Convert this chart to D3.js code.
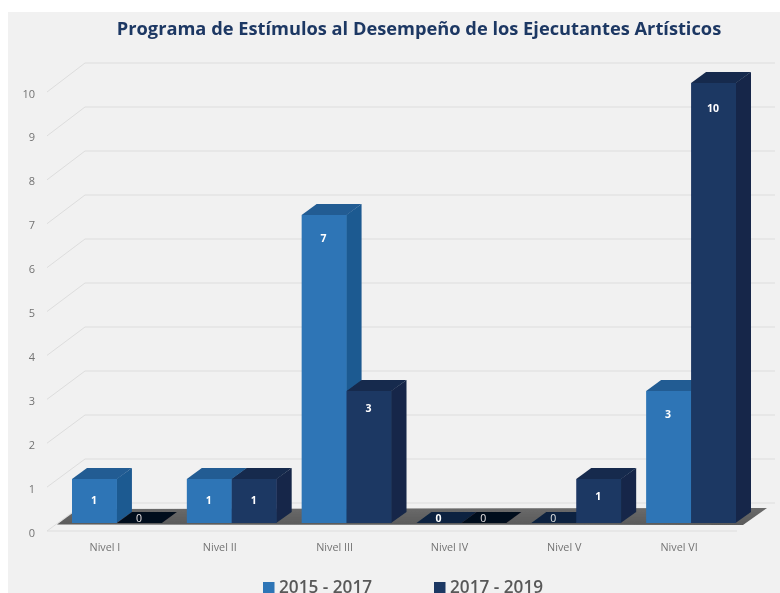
<!DOCTYPE html>
<html><head><meta charset="utf-8">
<script src="https://cdn.jsdelivr.net/npm/d3@7"></script>
<style>html,body{margin:0;padding:0;background:#fff;overflow:hidden}svg{display:block}</style>
</head><body><svg id="c" width="780" height="593"></svg>
<script>
const chartTitle = "Programa de Estímulos al Desempeño de los Ejecutantes Artísticos";
const categories = ["Nivel I","Nivel II","Nivel III","Nivel IV","Nivel V","Nivel VI"];
const seriesNames = ["2015 - 2017","2017 - 2019"];
const values2015 = [1,1,7,0,0,3];
const values2017 = [0,1,3,0,1,10];
const yTicks = [0,1,2,3,4,5,6,7,8,9,10];

const font = "'Open Sans', sans-serif";
const root = d3.select("#c");
const defs = root.append("defs");
defs.append("filter").attr("id","soft").attr("x",0).attr("y",0).attr("width",1).attr("height",1)
  .append("feGaussianBlur").attr("stdDeviation",0.35);
const fg = defs.append("linearGradient").attr("id","floor").attr("x1",0).attr("x2",0).attr("y1",0).attr("y2",1);
fg.append("stop").attr("offset",0).attr("stop-color","#6a6a6a");
fg.append("stop").attr("offset",1).attr("stop-color","#5a5a5a");

root.append("rect").attr("x",8).attr("y",12).attr("width",772).attr("height",581).attr("fill","#f1f1f1");
const svg = root.append("g").attr("filter","url(#soft)");
svg.append("rect").attr("x",8).attr("y",12).attr("width",772).attr("height",581).attr("fill","#f1f1f1");

const dep = {x:15,y:-11};
const wall = {fx:47, bx:85, right:775, floorRight:737};
const x = d3.scaleBand().domain(categories).range([72,736]).paddingInner(25/115);
const xs = d3.scaleBand().domain(seriesNames).range([0,x.bandwidth()]);
const y = d3.scaleLinear().domain([0,10]).range([523,83]);
const yFront = d3.scaleLinear().domain([0,10]).range([531,92]);
const yBack = d3.scaleLinear().domain([0,10]).range([503,63]);

// wall grid
const grid = svg.append("g").attr("fill","none").attr("stroke","#dddddd").attr("stroke-width",1);
yTicks.forEach(t=>{
  grid.append("polyline").attr("points",
    `${wall.fx},${yFront(t)} ${wall.bx},${yBack(t)} ${wall.right},${yBack(t)}`);
});
grid.append("line").attr("x1",wall.fx).attr("x2",wall.floorRight)
  .attr("y1",yFront(0)).attr("y2",yFront(0));

// floor
svg.append("polygon")
  .attr("points",`57,${y(0)+1.5} 78,509 767,508 743,${y(0)+2}`)
  .attr("fill","url(#floor)");

// axes
const gy = svg.append("g").attr("transform","translate(35,1.5)")
  .call(d3.axisLeft(yFront).tickValues(yTicks).tickSize(0).tickPadding(0));
gy.select(".domain").remove();
gy.selectAll("text").attr("font-family",font).attr("font-size",11).attr("fill","#737373");

const gx = svg.append("g").attr("transform","translate(-12,543)")
  .call(d3.axisBottom(x).tickSize(0).tickPadding(0));
gx.select(".domain").remove();
gx.selectAll("text").attr("font-family",font).attr("font-size",10.8).attr("fill","#737373");

// bars
const palette = {
  [seriesNames[0]]:{front:"#2e75b6",side:"#1f5a91",top:"#215c93",zero:"#0b2340"},
  [seriesNames[1]]:{front:"#1f3864",side:"#162848",top:"#172a4d",zero:"#050c1c"}
};
const rows = [];
categories.forEach((c,i)=>{
  rows.push({c,s:seriesNames[0],v:values2015[i]});
  rows.push({c,s:seriesNames[1],v:values2017[i]});
});
const gb = svg.append("g");
rows.forEach(d=>{
  const l = x(d.c)+xs(d.s), w = xs.bandwidth(), t = y(d.v), b = y(0), p = palette[d.s];
  const g = gb.append("g");
  if(d.v>0){
    g.append("polygon").attr("fill",p.side)
      .attr("points",`${l+w-0.5},${t} ${l+w+dep.x},${t+dep.y} ${l+w+dep.x},${b+dep.y} ${l+w-0.5},${b}`);
    g.append("rect").attr("x",l).attr("y",t).attr("width",w).attr("height",b-t).attr("fill",p.front);
  }
  g.append("polygon").attr("fill",d.v>0?p.top:p.zero)
    .attr("points",`${l},${t} ${l+dep.x},${t+dep.y} ${l+w+dep.x},${t+dep.y} ${l+w},${t}`);
});
// value labels: vertical placement of each label below its bar top, as placed in the reference
const labelDrop = (d)=>{
  if(d.v===10) return 26;
  if(d.v===7) return 24;
  if(d.v===3) return d.s===seriesNames[1] ? 18 : 24;
  if(d.c==="Nivel V") return 18;
  return 22;
};
rows.forEach(d=>{
  const l = x(d.c)+xs(d.s), w = xs.bandwidth(), isZero = d.v===0;
  const bold = !isZero || (d.c==="Nivel IV" && d.s===seriesNames[0]);
  gb.append("text").attr("x",l+w/2-0.5).attr("y",isZero?y(0)-3.5:y(d.v)+labelDrop(d))
    .attr("text-anchor","middle").attr("dominant-baseline","middle")
    .attr("font-family",font).attr("font-size",10.5).attr("font-weight",bold?700:400)
    .attr("fill",isZero&&!bold?"#e4e4e4":"#ffffff").text(d.v);
});

// title
svg.append("text").attr("x",419).attr("y",35).attr("text-anchor","middle")
  .attr("font-family",font).attr("font-size",18.25).attr("font-weight",700)
  .attr("fill","#1f3864").text(chartTitle);

// legend
const legX = d3.scaleOrdinal().domain(seriesNames).range([263,434]);
seriesNames.forEach(s=>{
  svg.append("rect").attr("x",legX(s)).attr("y",582).attr("width",11.5).attr("height",11).attr("fill",palette[s].front);
  svg.append("text").attr("x",legX(s)+16).attr("y",592.5)
    .attr("font-family",font).attr("font-size",17.2).attr("font-weight",600)
    .attr("fill","#595959").text(s);
});
</script></body></html>
